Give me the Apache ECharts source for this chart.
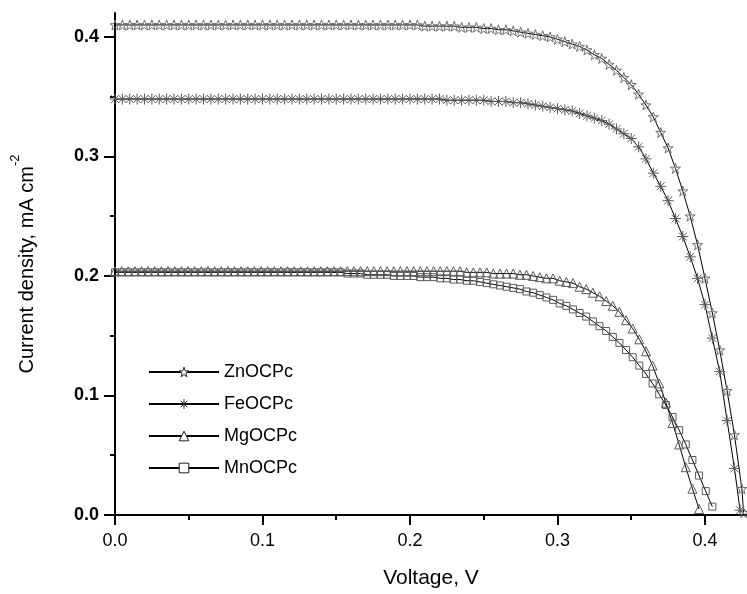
<!DOCTYPE html>
<html>
<head>
<meta charset="utf-8">
<script src="https://cdn.jsdelivr.net/npm/echarts@6/dist/echarts.min.js"></script>
<style>
html,body{margin:0;padding:0;background:#fff;}
#chart{width:747px;height:594px;}
</style>
</head>
<body>
<div id="chart"></div>
<script>
// ---- data ----
const seriesNames = ['ZnOCPc', 'FeOCPc', 'MgOCPc', 'MnOCPc'];

// voltage grid for ZnOCPc / FeOCPc (V)
const vA = [0,0.005,0.01,0.015,0.02,0.025,0.03,0.035,0.04,0.045,0.05,0.055,0.06,0.065,0.07,0.075,0.08,0.085,0.09,0.095,
  0.1,0.105,0.11,0.115,0.12,0.125,0.13,0.135,0.14,0.145,0.15,0.155,0.16,0.165,0.17,0.175,0.18,0.185,0.19,0.195,
  0.2,0.205,0.21,0.215,0.22,0.225,0.23,0.235,0.24,0.245,0.25,0.255,0.26,0.265,0.27,0.275,0.28,0.285,0.29,0.295,
  0.3,0.305,0.31,0.315,0.32,0.325,0.33,0.335,0.34,0.345,0.35,0.355,0.36,0.365,0.37,0.375,0.38,0.385,0.39,0.395,
  0.4,0.405,0.41,0.415,0.42];
const znV = [...vA, 0.425, 0.4262];
const feV = [...vA, 0.4238];

// voltage grid for MgOCPc / MnOCPc (V)
const vB = [0,0.0045,0.009,0.0135,0.018,0.0225,0.027,0.0315,0.036,0.0405,0.045,0.0495,0.054,0.0585,0.063,0.0675,
  0.072,0.0765,0.081,0.0855,0.09,0.0945,0.099,0.1035,0.108,0.1125,0.117,0.1215,0.126,0.1305,0.135,0.1395,0.144,
  0.1485,0.153,0.1575,0.162,0.1665,0.171,0.1755,0.18,0.1845,0.189,0.1935,0.198,0.2025,0.207,0.2115,0.216,0.2205,
  0.225,0.2295,0.234,0.2385,0.243,0.2475,0.252,0.2565,0.261,0.2655,0.27,0.2745,0.279,0.2835,0.288,0.2925,0.297,
  0.3015,0.306,0.3105,0.315,0.3195,0.324,0.3285,0.333,0.3375,0.342,0.3465,0.351,0.3555,0.36,0.3645,0.369,0.3735,
  0.378,0.3825,0.387,0.3915,0.396,0.4005,0.405];

// current density (mA cm^-2)
const znJ = [0.41,0.41,0.41,0.41,0.41,0.41,0.41,0.41,0.41,0.41,0.41,0.41,0.41,0.41,0.41,0.41,0.41,0.41,0.41,0.41,
  0.41,0.41,0.41,0.41,0.41,0.41,0.41,0.41,0.41,0.41,0.41,0.41,0.41,0.41,0.41,0.41,0.41,0.41,0.41,0.41,0.41,
  0.41,0.409,0.409,0.409,0.409,0.409,0.408,0.408,0.408,0.407,0.407,0.406,0.406,0.405,0.404,0.403,0.402,0.401,0.4,
  0.398,0.396,0.394,0.392,0.389,0.385,0.382,0.377,0.372,0.366,0.36,0.352,0.343,0.333,0.32,0.307,0.29,0.271,0.25,0.226,
  0.198,0.169,0.138,0.104,0.067,0.022,0.002];
const feJ = [0.348,0.348,0.348,0.348,0.348,0.348,0.348,0.348,0.348,0.348,0.348,0.348,0.348,0.348,0.348,0.348,0.348,0.348,0.348,0.348,
  0.348,0.348,0.348,0.348,0.348,0.348,0.348,0.348,0.348,0.348,0.348,0.348,0.348,0.348,0.348,0.348,0.348,0.348,0.348,0.348,
  0.348,0.348,0.348,0.348,0.348,0.347,0.347,0.347,0.347,0.347,0.347,0.346,0.346,0.346,0.345,0.345,0.344,0.343,0.342,0.341,
  0.34,0.339,0.338,0.336,0.334,0.332,0.33,0.327,0.323,0.319,0.315,0.308,0.298,0.286,0.275,0.263,0.248,0.233,0.216,0.198,
  0.176,0.148,0.12,0.079,0.039,0.004];
const mgJ = [0.204,0.204,0.204,0.204,0.204,0.204,0.204,0.204,0.204,0.204,0.204,0.204,0.204,0.204,0.204,0.204,0.204,0.204,0.204,0.204,
  0.204,0.204,0.204,0.204,0.204,0.204,0.204,0.204,0.204,0.204,0.204,0.204,0.204,0.204,0.204,0.204,0.204,0.204,0.204,0.204,
  0.204,0.204,0.204,0.204,0.204,0.204,0.204,0.204,0.204,0.204,0.204,
  0.204,0.204,0.203,0.203,0.203,0.203,0.202,0.202,0.202,0.202,0.201,0.201,0.2,0.199,0.198,0.198,0.196,0.195,0.194,
  0.191,0.189,0.186,0.183,0.179,0.175,0.17,0.163,0.156,0.147,0.137,0.125,0.11,0.094,0.077,0.059,0.04,0.022,0.005];
const mnJ = [0.203,0.203,0.203,0.203,0.203,0.203,0.203,0.203,0.203,0.203,0.203,0.203,0.203,0.203,0.203,0.203,0.203,0.203,0.203,0.203,
  0.203,0.203,0.203,0.203,0.203,0.203,0.203,0.203,0.203,0.203,0.203,0.203,0.203,0.203,0.203,
  0.202,0.202,0.202,0.201,0.201,0.201,0.201,0.2,0.2,0.2,0.2,0.199,0.199,0.199,0.198,0.198,0.197,0.197,0.196,0.196,
  0.195,0.194,0.193,0.192,0.191,0.19,0.189,0.187,0.186,0.184,0.182,0.18,0.177,0.175,0.172,0.169,0.166,0.162,0.158,0.154,
  0.149,0.144,0.138,0.132,0.125,0.118,0.11,0.101,0.092,0.082,0.071,0.059,0.046,0.033,0.02,0.007];

// axis ticks
const xMajorTicks = [0, 0.1, 0.2, 0.3, 0.4];
const xMinorTicks = [0.05, 0.15, 0.25, 0.35];
const yMajorTicks = [0, 0.1, 0.2, 0.3, 0.4];
const yMinorTicks = [0.05, 0.15, 0.25, 0.35];

// ---- chart ----
const FONT = '"Liberation Sans", Arial, sans-serif';
const STAR = 'path://M50,0 L61.8,35.1 L98.1,35.1 L68.8,56.7 L79.4,91.9 L50,70.2 L20.6,91.9 L31.2,56.7 L1.9,35.1 L38.2,35.1 Z';
const ASTER = 'path://M50,0 L50,100 M0,50 L100,50 M15,15 L85,85 M85,15 L15,85';
const pairs = (v, j) => j.map((y, i) => [v[i], y]);

function mk(name, data, symbol, size, stroke) {
  return {
    name, type: 'line', data, symbol, symbolSize: size,
    showSymbol: true, smooth: false, clip: true,
    lineStyle: { color: '#000', width: 1 },
    itemStyle: { color: 'rgba(255,255,255,0)', borderColor: stroke, borderWidth: 1 },
    emphasis: { disabled: true },
    animation: false
  };
}

const chart = echarts.init(document.getElementById('chart'), null, { renderer: 'canvas' });
const axisBase = {
  type: 'value', min: 0,
  axisLine: { show: true, lineStyle: { color: '#000', width: 2 } },
  splitLine: { show: false }
};
chart.setOption({
  animation: false,
  backgroundColor: '#fff',
  grid: { left: 115, right: 0, top: 13, bottom: 78, containLabel: false },
  legend: {
    orient: 'vertical', left: 143, top: 357,
    itemWidth: 70, itemHeight: 12, itemGap: 12,
    data: seriesNames,
    itemStyle: { color: '#ffffff', borderColor: '#222', borderWidth: 1 },
    textStyle: { fontFamily: FONT, fontSize: 18, color: '#000', lineHeight: 20 },
    selectedMode: false
  },
  xAxis: [
    Object.assign({}, axisBase, {
      max: 0.4285,
      axisTick: { show: true, length: 10, inside: false, customValues: xMajorTicks, lineStyle: { color: '#000', width: 2 } },
      axisLabel: { customValues: xMajorTicks, margin: 17, fontFamily: FONT, fontSize: 18, color: '#000',
        formatter: v => v.toFixed(1) },
      name: 'Voltage, V', nameLocation: 'middle', nameGap: 53,
      nameTextStyle: { fontFamily: FONT, fontSize: 21, color: '#000' }
    }),
    Object.assign({}, axisBase, {
      max: 0.4285, position: 'bottom',
      axisLine: { show: false },
      axisTick: { show: true, length: 5, customValues: xMinorTicks, lineStyle: { color: '#000', width: 2 } },
      axisLabel: { show: false }
    })
  ],
  yAxis: [
    Object.assign({}, axisBase, {
      max: 0.42,
      axisTick: { show: true, length: 11, customValues: yMajorTicks, lineStyle: { color: '#000', width: 2 } },
      axisLabel: { customValues: yMajorTicks, margin: 16, fontFamily: FONT, fontSize: 18, fontWeight: 'bold', color: '#000',
        formatter: v => v.toFixed(1) },
      name: '{base|Current density, mA cm}{sup|-2}', nameLocation: 'middle', nameGap: 78, nameRotate: 90,
      nameTextStyle: {
        rich: {
          base: { fontFamily: FONT, fontSize: 20, color: '#000', lineHeight: 28, verticalAlign: 'bottom' },
          sup: { fontFamily: FONT, fontSize: 13, color: '#000', lineHeight: 14, verticalAlign: 'top' }
        }
      }
    }),
    Object.assign({}, axisBase, {
      max: 0.42, position: 'left',
      axisLine: { show: false },
      axisTick: { show: true, length: 5, customValues: yMinorTicks, lineStyle: { color: '#000', width: 2 } },
      axisLabel: { show: false }
    })
  ],
  series: [
    mk('ZnOCPc', pairs(znV, znJ), STAR, 10, '#6e6e6e'),
    mk('FeOCPc', pairs(feV, feJ), ASTER, 11, '#5a5a5a'),
    mk('MgOCPc', pairs(vB, mgJ), 'triangle', 9, '#5a5a5a'),
    mk('MnOCPc', pairs(vB, mnJ), 'rect', 7, '#5a5a5a')
  ]
});
</script>
</body>
</html>
